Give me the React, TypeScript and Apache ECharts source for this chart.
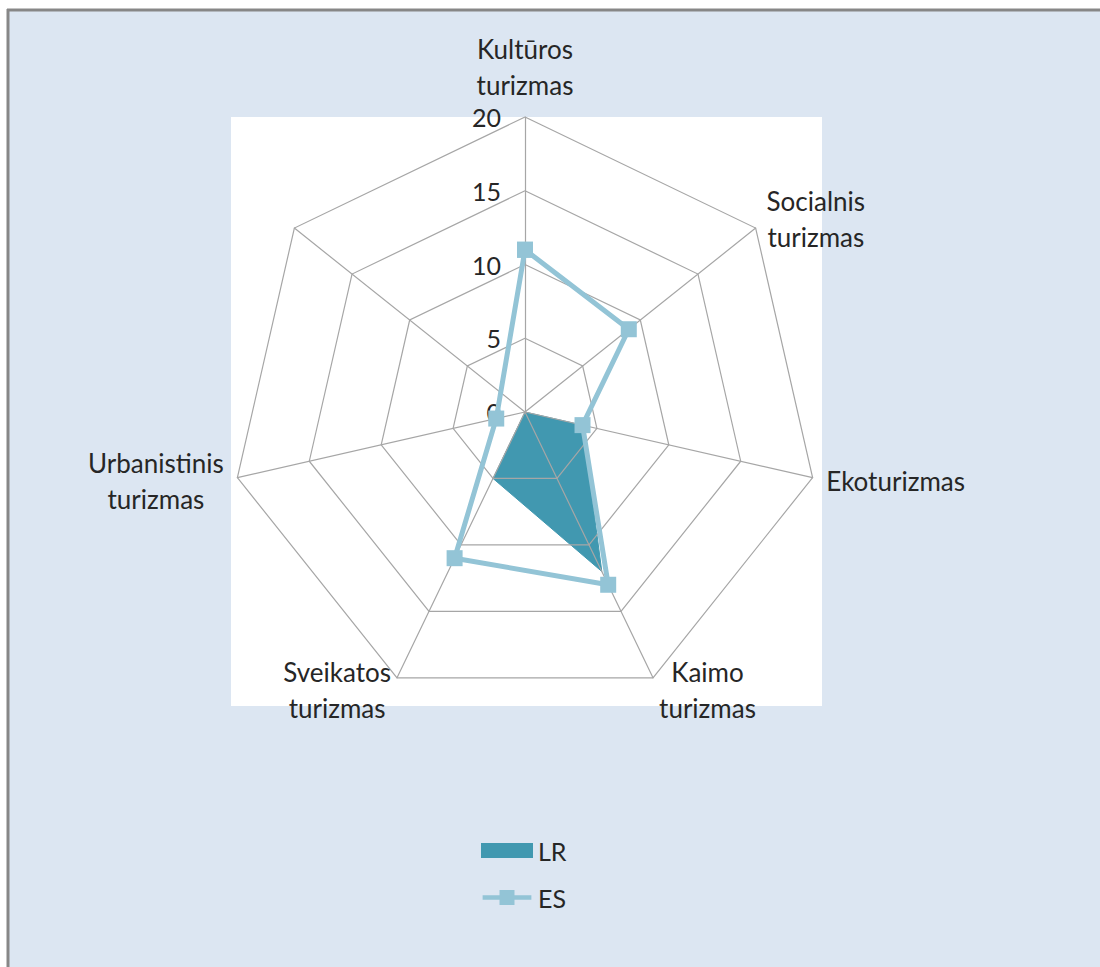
import React, { useEffect, useRef } from "react";
import * as echarts from "echarts";

// Categories clockwise from the top
const categories = [
  "Kultūros\nturizmas",
  "Socialnis\nturizmas",
  "Ekoturizmas",
  "Kaimo\nturizmas",
  "Sveikatos\nturizmas",
  "Urbanistinis\nturizmas",
  "",
];
const lrValues = [0, 0, 4, 12, 5, 0, 0];
const esValues: (number | null)[] = [11, 9, 4, 13, 11, 2, null];
const axisMax = 20;
const tickLabels = ["0", "5", "10", "15", "20"];

const FONT = "Lato";
const NAME_SIZE = 26;
const CX = 525;
const CY = 412;
const R = 295;
const NAME_GAP = 14;

export default function App() {
  const ref = useRef<HTMLDivElement>(null);
  useEffect(() => {
    if (!ref.current) return;
    const chart = echarts.init(ref.current, undefined, { renderer: "svg" });
    const n = categories.length;
    // radar places indicators counter-clockwise: reorder
    const radarOrder = [0, ...Array.from({ length: n - 1 }, (_, k) => n - 1 - k)];

    const canvas = document.createElement("canvas");
    const ctx = canvas.getContext("2d")!;
    ctx.font = `${NAME_SIZE}px ${FONT}`;

    const nameTexts = categories.map((name, i) => {
      const a = (i / n) * Math.PI * 2;
      const sx = Math.sin(a);
      const sy = -Math.cos(a);
      const px = CX + (R + NAME_GAP) * sx;
      const py = CY + (R + NAME_GAP) * sy;
      const w = Math.max(0, ...name.split("\n").map((l) => ctx.measureText(l).width));
      let x = px;
      let vAlign = "middle";
      if (Math.abs(sx) < 0.01) {
        vAlign = sy < 0 ? "bottom" : "top";
      } else if (sx > 0) {
        x = px + w / 2;
      } else {
        x = px - w / 2;
      }
      return {
        type: "text",
        x,
        y: py,
        z: 5,
        style: {
          text: name,
          fill: "#262626",
          fontFamily: FONT,
          fontSize: NAME_SIZE,
          lineHeight: 36,
          align: "center",
          verticalAlign: vAlign,
        },
      };
    });

    const esPolar = [
      ...esValues.map((v, i) => [v == null ? "-" : v, i]),
      [esValues[0], n],
    ];

    chart.setOption({
      animation: false,
      backgroundColor: "#ffffff",
      textStyle: { fontFamily: FONT },
      graphic: [
        { type: "rect", z: -10, shape: { x: 8, y: 10, width: 1092, height: 957 }, style: { fill: "#dce6f2" } },
        { type: "rect", z: -9, shape: { x: 231, y: 117, width: 591, height: 589 }, style: { fill: "#ffffff" } },
        { type: "line", z: -8, shape: { x1: 7, y1: 10, x2: 1100, y2: 10 }, style: { stroke: "#878787", lineWidth: 3 } },
        { type: "line", z: -8, shape: { x1: 8, y1: 9, x2: 8, y2: 967 }, style: { stroke: "#878787", lineWidth: 3 } },
        ...nameTexts,
      ],
      legend: {
        orient: "vertical",
        left: 481,
        top: 838,
        padding: 0,
        itemGap: 22,
        itemWidth: 52,
        itemHeight: 15,
        textStyle: { fontFamily: FONT, fontSize: 25, color: "#262626" },
        data: [
          { name: "LR", icon: "rect", itemStyle: { color: "#4198b0" } },
          {
            name: "ES",
            icon: "path://M0,5.5 L18,5.5 L18,0 L34,0 L34,5.5 L52,5.5 L52,10.5 L34,10.5 L34,16 L18,16 L18,10.5 L0,10.5 Z",
            itemStyle: { color: "#93c4d6" },
          },
        ],
      },
      radar: {
        z: 2,
        center: [CX, CY],
        radius: R,
        startAngle: 90,
        shape: "polygon",
        splitNumber: tickLabels.length - 1,
        indicator: radarOrder.map((ci, k) => ({
          name: categories[ci],
          min: 0,
          max: axisMax,
          ...(k === 0 ? { axisLabel: { show: true } } : {}),
        })),
        axisName: { show: false },
        axisLabel: {
          show: false,
          color: "#262626",
          fontFamily: FONT,
          fontSize: 25,
          margin: 24,
          formatter: (v: number) => tickLabels[Math.round(v / 5)] ?? String(v),
        },
        axisTick: { show: false },
        axisLine: { lineStyle: { color: "#a6a6a6", width: 1.2 } },
        splitLine: { lineStyle: { color: "#a6a6a6", width: 1.2 } },
        splitArea: { show: false },
      },
      polar: { center: [CX, CY], radius: R },
      angleAxis: {
        type: "value",
        min: 0,
        max: n,
        startAngle: 90,
        clockwise: true,
        show: false,
      },
      radiusAxis: { type: "value", min: 0, max: axisMax, show: false },
      series: [
        {
          type: "radar",
          z: 1,
          symbol: "none",
          data: [
            {
              name: "LR",
              value: radarOrder.map((ci) => lrValues[ci]),
              lineStyle: { color: "#4198b0", width: 1 },
              itemStyle: { color: "#4198b0" },
              areaStyle: { color: "#4198b0", opacity: 1 },
            },
          ],
        },
        {
          type: "line",
          name: "ES",
          coordinateSystem: "polar",
          z: 3,
          connectNulls: true,
          symbol: "rect",
          symbolSize: 16,
          showAllSymbol: true,
          data: esPolar,
          lineStyle: { color: "#93c4d6", width: 5 },
          itemStyle: { color: "#93c4d6" },
        },
      ],
    });
    return () => chart.dispose();
  }, []);
  return (
    <div
      ref={ref}
      style={{ position: "absolute", left: 0, top: 0, width: 1100, height: 967 }}
    />
  );
}
